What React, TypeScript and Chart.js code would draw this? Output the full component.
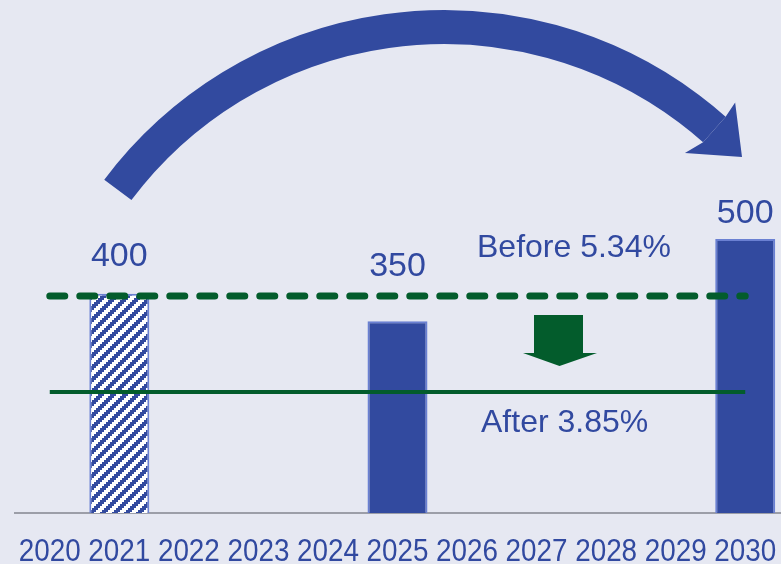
import React, { useEffect, useRef } from "react";
import { Chart, registerables } from "chart.js";

Chart.register(...registerables);

// ---- data ----
const years = ["2020", "2021", "2022", "2023", "2024", "2025", "2026", "2027", "2028", "2029", "2030"];
const barValues = [null, 400, null, null, null, 350, null, null, null, null, 500];
const hatchedYears = ["2021"];
const beforeLine = [396, null, null, null, null, null, null, null, null, null, 396];
const afterLine = [221, null, null, null, null, null, null, null, null, null, 221];
const beforeText = "Before 5.34%";
const afterText = "After 3.85%";

// ---- styles ----
const BG = "#E6E8F2";
const BLUE = "#324A9F";
const BLUE_BORDER = "#6A80D2";
const GREEN = "#035C2C";
const TEXT = "#3149A0";
const FONT = "'Liberation Sans', Arial, sans-serif";

function makeHatch(): CanvasPattern | string {
  const N = 12;
  const c = document.createElement("canvas");
  c.width = N;
  c.height = N;
  const ctx = c.getContext("2d");
  if (!ctx) return BLUE;
  const img = ctx.createImageData(N, N);
  for (let y = 0; y < N; y++) {
    for (let x = 0; x < N; x++) {
      const i = (y * N + x) * 4;
      const qx = Math.floor(x / 2) * 2;
      const qy = Math.floor(y / 2) * 2;
      const blue = (qx + qy) % N < 6;
      img.data[i] = blue ? 50 : 255;
      img.data[i + 1] = blue ? 74 : 255;
      img.data[i + 2] = blue ? 159 : 255;
      img.data[i + 3] = 255;
    }
  }
  ctx.putImageData(img, 0, 0);
  return ctx.createPattern(c, "repeat") || BLUE;
}

const labelGaps: Record<number, number> = { 1: 28, 5: 45, 10: 16 };

const decorPlugin = {
  id: "decor",
  beforeDraw(chart: any) {
    const { ctx, width, height } = chart;
    ctx.save();
    ctx.fillStyle = BG;
    ctx.fillRect(0, 0, width, height);
    ctx.restore();
  },
  afterDatasetsDraw(chart: any) {
    const { ctx } = chart;
    const yS = chart.scales.y;
    const xS = chart.scales.x;
    ctx.save();

    // big curved arrow
    const cx = 444, cy = 435, r = 408;
    const a0 = Math.atan2(190 - cy, 118 - cx);
    const a1 = (-48.5 * Math.PI) / 180;
    ctx.beginPath();
    ctx.arc(cx, cy, r, a0, a1, false);
    ctx.lineWidth = 34;
    ctx.lineCap = "butt";
    ctx.strokeStyle = BLUE;
    ctx.stroke();
    const pol = (rad: number, deg: number) => [cx + rad * Math.cos((deg * Math.PI) / 180), cy + rad * Math.sin((deg * Math.PI) / 180)];
    const inB = pol(371, -49.5);
    const outB = pol(442, -48.8);
    const inE = pol(391, -48.5);
    const outE = pol(425, -48.5);
    ctx.beginPath();
    ctx.moveTo(inB[0], inB[1]);
    ctx.lineTo(742, 157);
    ctx.lineTo(outB[0], outB[1]);
    ctx.lineTo(outE[0], outE[1]);
    ctx.lineTo(inE[0], inE[1]);
    ctx.closePath();
    ctx.fillStyle = BLUE;
    ctx.fill();

    // green down arrow
    ctx.beginPath();
    ctx.moveTo(534, 315);
    ctx.lineTo(583, 315);
    ctx.lineTo(583, 353);
    ctx.lineTo(597, 353);
    ctx.lineTo(559.5, 366);
    ctx.lineTo(523, 353);
    ctx.lineTo(534, 353);
    ctx.closePath();
    ctx.fillStyle = GREEN;
    ctx.fill();

    // annotation texts
    ctx.fillStyle = TEXT;
    ctx.font = `32px ${FONT}`;
    ctx.textAlign = "left";
    ctx.textBaseline = "alphabetic";
    ctx.fillText(beforeText, 477, yS.getPixelForValue(beforeLine[0] as number) - 39);
    ctx.fillText(afterText, 481, yS.getPixelForValue(afterLine[0] as number) + 40);

    // bar value labels
    const meta = chart.getDatasetMeta(2);
    ctx.font = `34px ${FONT}`;
    ctx.textAlign = "center";
    meta.data.forEach((el: any, i: number) => {
      const v = barValues[i];
      if (v == null) return;
      ctx.fillText(String(v), el.x, el.y - (labelGaps[i] ?? 20));
    });

    // x-axis category labels (condensed)
    ctx.font = `32px ${FONT}`;
    ctx.textAlign = "center";
    ctx.textBaseline = "alphabetic";
    years.forEach((label, i) => {
      const x = xS.getPixelForValue(i);
      ctx.save();
      ctx.translate(x, xS.top + 48);
      ctx.scale(0.87, 1);
      ctx.fillText(label, 0, 0);
      ctx.restore();
    });
    ctx.restore();
  },
};

export default function App() {
  const ref = useRef<HTMLCanvasElement | null>(null);
  useEffect(() => {
    if (!ref.current) return;
    const hatch = makeHatch();
    const chart = new Chart(ref.current, {
      type: "bar",
      data: {
        labels: years,
        datasets: [
          {
            type: "line",
            data: beforeLine,
            borderColor: GREEN,
            borderWidth: 7,
            borderDash: [15, 15],
            borderCapStyle: "round",
            pointRadius: 0,
            spanGaps: true,
            order: 1,
          } as any,
          {
            type: "line",
            data: afterLine,
            borderColor: GREEN,
            borderWidth: 4,
            pointRadius: 0,
            spanGaps: true,
            order: 1,
          } as any,
          {
            type: "bar",
            data: barValues,
            backgroundColor: years.map((y) => (hatchedYears.includes(y) ? hatch : BLUE)),
            borderColor: BLUE_BORDER,
            borderWidth: 2,
            borderSkipped: "start",
            barPercentage: 0.863,
            categoryPercentage: 1,
            order: 2,
          } as any,
        ],
      },
      options: {
        responsive: false,
        animation: false,
        layout: { padding: { top: 0, left: 15, right: 1, bottom: 0 } },
        plugins: { legend: { display: false }, tooltip: { enabled: false } },
        scales: {
          x: {
            grid: { display: false, drawTicks: false },
            border: { display: true, color: "#9C9EA8", width: 2 },
            ticks: { display: false },
            afterFit: (s: any) => {
              s.height = 51;
            },
          },
          y: { display: false, min: 0, max: 936 },
        },
      },
      plugins: [decorPlugin],
    });
    return () => chart.destroy();
  }, []);
  return (
    <div style={{ position: "fixed", left: 0, top: 0, width: 781, height: 564, background: BG }}>
      <canvas ref={ref} width={781} height={564} style={{ display: "block" }} />
    </div>
  );
}
